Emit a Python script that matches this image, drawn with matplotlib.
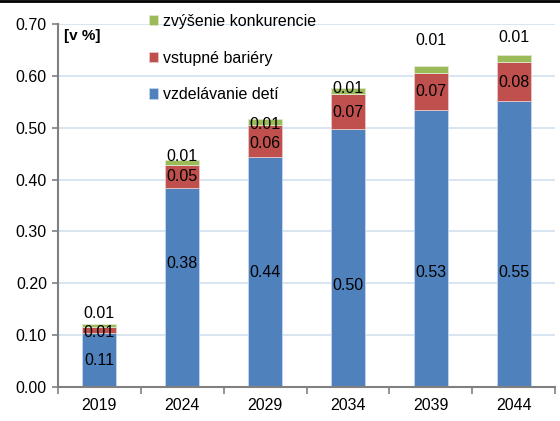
import numpy as np
import matplotlib.pyplot as plt
from matplotlib.lines import Line2D

years = ["2019", "2024", "2029", "2034", "2039", "2044"]
vzdelavanie = [0.105, 0.383, 0.443, 0.497, 0.534, 0.552]
bariery = [0.010, 0.045, 0.062, 0.068, 0.071, 0.075]
konkurencia = [0.006, 0.009, 0.011, 0.011, 0.014, 0.013]

lab_blue = ["0.11", "0.38", "0.44", "0.50", "0.53", "0.55"]
lab_red = ["0.01", "0.05", "0.06", "0.07", "0.07", "0.08"]
lab_green = ["0.01", "0.01", "0.01", "0.01", "0.01", "0.01"]

# label heights (data units), hand placed like the original
y_blue = [0.052, 0.239, 0.22, 0.195, 0.22, 0.22]
y_red = [0.106, 0.405, 0.47, 0.53, 0.569, 0.588]
y_green = [0.141, 0.445, 0.507, 0.575, 0.669, 0.673]

plt.rcParams['font.family'] = ['Liberation Sans', 'DejaVu Sans']

fig = plt.figure(figsize=(5.6, 4.21), dpi=100)
ax = fig.add_axes([0.1036, 0.0808, 0.8875, 0.8622])

x = np.arange(len(years))
blue = "#4f81bd"
red = "#c0504d"
green = "#9bbb59"
w = 0.41
b1 = np.array(vzdelavanie)
b2 = b1 + np.array(bariery)
ax.bar(x, vzdelavanie, w, color=blue, edgecolor="#c6d7ee", linewidth=0.6, zorder=2,
       label="vzdelávanie detí")
ax.bar(x, bariery, w, bottom=b1, color=red, edgecolor="#e8c8c8", linewidth=0.6, zorder=2,
       label="vstupné bariéry")
ax.bar(x, konkurencia, w, bottom=b2, color=green, edgecolor="#dde8cc", linewidth=0.6, zorder=2,
       label="zvýšenie konkurencie")

for i in range(len(years)):
    ax.text(x[i], y_blue[i], lab_blue[i], ha="center", va="center", fontsize=11.5, zorder=3)
    ax.text(x[i], y_red[i], lab_red[i], ha="center", va="center", fontsize=11.5, zorder=3)
    ax.text(x[i], y_green[i], lab_green[i], ha="center", va="center", fontsize=11.5, zorder=3)

ax.set_xlim(-0.5, len(years) - 0.5)
ax.set_ylim(0, 0.70)
ax.set_yticks(np.arange(0, 0.71, 0.1))
ax.set_yticklabels(["%.2f" % v for v in np.arange(0, 0.71, 0.1)], fontsize=11.5)
ax.set_xticks(x)
ax.set_xticklabels(years, fontsize=11.5)
ax.set_xticks(np.arange(-0.5, len(years)), minor=True)
ax.tick_params(axis="x", which="major", length=0, pad=8)
ax.tick_params(axis="x", which="minor", length=5, color="#808080", width=1.2)
ax.tick_params(axis="y", length=4, color="#808080", width=1.2, pad=4)
ax.grid(axis="y", color="#d3e0f0", linewidth=1.2, zorder=0)
ax.set_axisbelow(True)
for s in ["top", "right"]:
    ax.spines[s].set_visible(False)
for s in ["left", "bottom"]:
    ax.spines[s].set_color("#808080")
    ax.spines[s].set_linewidth(1.5)

ax.text(0.012, 0.985, "[v %]", transform=ax.transAxes, fontsize=11, fontweight="bold",
        va="top", ha="left")

h, l = ax.get_legend_handles_labels()
ax.legend(h[::-1], l[::-1], loc="upper left", bbox_to_anchor=(0.17, 1.045), frameon=False,
          fontsize=11.5, handlelength=0.6, handleheight=0.6, handletextpad=0.3,
          labelspacing=1.35, borderaxespad=0)

fig.add_artist(Line2D([0, 1], [0.998, 0.998], transform=fig.transFigure, color="black", linewidth=2))

fig.savefig("out.png", dpi=100)
